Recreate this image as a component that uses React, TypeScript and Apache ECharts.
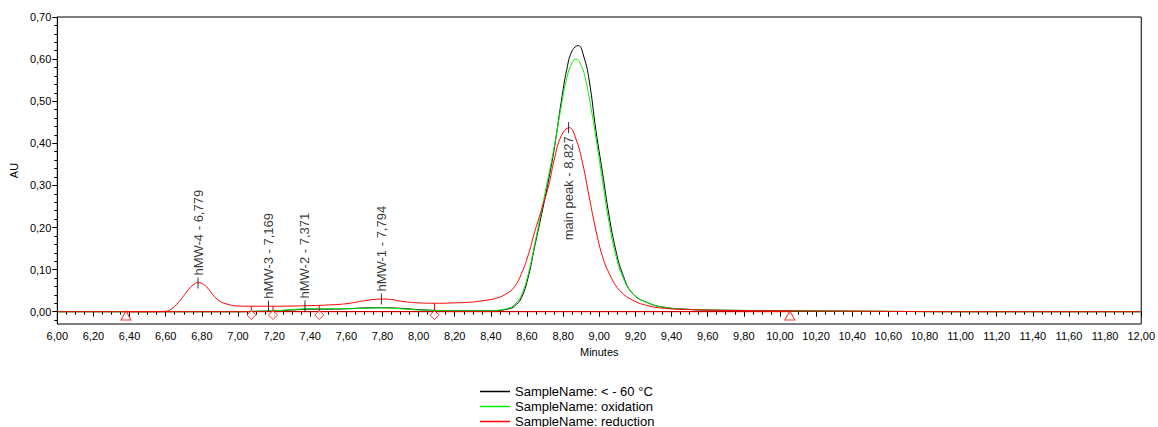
import React, { useEffect, useRef } from "react";
import * as echarts from "echarts";

// ---- data ----
const seriesNames = ["SampleName: < - 60 °C", "SampleName: oxidation", "SampleName: reduction"];
const seriesColors = ["#000000", "#00ee00", "#ff0000"];

const blackData: number[][] = [
  [6.0, 0], [7.0, 0], [7.1, 0.001], [7.2, 0.002], [7.3, 0.004], [7.4, 0.006], [7.5, 0.006], [7.6, 0.007],
  [7.7, 0.009], [7.8, 0.0095], [7.9, 0.008], [8.0, 0.005], [8.1, 0.003], [8.2, 0.002], [8.3, 0.002], [8.4, 0.002],
  [8.45, 0.003], [8.5, 0.007], [8.53, 0.013], [8.57, 0.034], [8.61, 0.088], [8.64, 0.15], [8.68, 0.23],
  [8.72, 0.315], [8.75, 0.385], [8.79, 0.5], [8.82, 0.575], [8.85, 0.62], [8.884, 0.632], [8.915, 0.605],
  [8.944, 0.55], [8.981, 0.432], [9.018, 0.33], [9.055, 0.226], [9.091, 0.147], [9.128, 0.091], [9.183, 0.044],
  [9.275, 0.02], [9.367, 0.01], [9.476, 0.006], [9.6, 0.004], [9.8, 0.003], [10.0, 0.002], [10.5, 0.001],
  [11.0, 0], [12.0, 0],
];

const greenData: number[][] = [
  [6.0, 0], [7.0, 0], [7.1, 0.001], [7.2, 0.002], [7.3, 0.005], [7.4, 0.007], [7.5, 0.007], [7.6, 0.007],
  [7.7, 0.008], [7.8, 0.009], [7.9, 0.007], [8.0, 0.004], [8.1, 0.003], [8.2, 0.002], [8.3, 0.002], [8.4, 0.002],
  [8.45, 0.004], [8.5, 0.009], [8.53, 0.016], [8.57, 0.04], [8.61, 0.095], [8.64, 0.155], [8.68, 0.24],
  [8.72, 0.325], [8.75, 0.39], [8.79, 0.49], [8.82, 0.555], [8.85, 0.592], [8.871, 0.6], [8.9, 0.585],
  [8.93, 0.54], [8.96, 0.47], [8.981, 0.415], [9.018, 0.31], [9.055, 0.21], [9.091, 0.135], [9.128, 0.085],
  [9.183, 0.044], [9.275, 0.02], [9.367, 0.01], [9.476, 0.006], [9.6, 0.004], [9.8, 0.003], [10.0, 0.002],
  [10.5, 0.001], [11.0, 0], [12.0, 0],
];

const redData: number[][] = [
  [6.0, 0], [6.5, 0], [6.6, 0.001], [6.64, 0.009], [6.68, 0.027], [6.72, 0.049], [6.75, 0.063], [6.78, 0.069],
  [6.81, 0.065], [6.84, 0.052], [6.87, 0.036], [6.9, 0.025], [6.94, 0.018], [7.0, 0.0135], [7.1, 0.013],
  [7.2, 0.013], [7.3, 0.0135], [7.4, 0.0145], [7.5, 0.016], [7.6, 0.019], [7.7, 0.026], [7.79, 0.03],
  [7.85, 0.029], [7.9, 0.025], [8.0, 0.021], [8.1, 0.02], [8.2, 0.021], [8.3, 0.023], [8.35, 0.026],
  [8.42, 0.031], [8.48, 0.041], [8.53, 0.059], [8.57, 0.091], [8.61, 0.139], [8.64, 0.186], [8.68, 0.242],
  [8.72, 0.3], [8.75, 0.36], [8.79, 0.418], [8.834, 0.437], [8.871, 0.41], [8.908, 0.352], [8.944, 0.273],
  [8.981, 0.194], [9.018, 0.131], [9.055, 0.091], [9.11, 0.052], [9.183, 0.028], [9.275, 0.0135],
  [9.367, 0.008], [9.5, 0.005], [9.7, 0.003], [10.0, 0.002], [10.5, 0.001], [11.0, 0], [12.0, 0],
];

const baselineData: number[][] = [[6.38, 0], [10.055, 0]];
const baselineEnds: number[][] = [[6.38, -0.009], [10.055, -0.009]];
const dropLines: number[][] = [[7.074, 0.0128], [7.194, 0.013], [7.45, 0.0155], [8.088, 0.02]];
const dropMarks: number[][] = [[7.074, -0.008], [7.194, -0.008], [7.45, -0.008], [8.088, -0.008]];

const peakLabels = ["hMW-4 - 6,779", "hMW-3 - 7,169", "hMW-2 - 7,371", "hMW-1 - 7,794", "main peak - 8,827"];
const peakTimes = [6.779, 7.169, 7.371, 7.794, 8.83];
const peakHeights = [0.068, 0.013, 0.0135, 0.03, 0.437];

const yLabelTicks = [0, 0.1, 0.2, 0.3, 0.4, 0.5, 0.6, 0.7];
const yMinorTicks = [
  -0.02, 0.02, 0.04, 0.06, 0.08, 0.12, 0.14, 0.16, 0.18, 0.22, 0.24, 0.26, 0.28, 0.32, 0.34, 0.36, 0.38,
  0.42, 0.44, 0.46, 0.48, 0.52, 0.54, 0.56, 0.58, 0.62, 0.64, 0.66, 0.68,
];

const FONT = "'Liberation Sans', Arial, sans-serif";
const fmt = (v: number) => v.toFixed(2).replace(".", ",");

export default function App() {
  const ref = useRef<HTMLDivElement>(null);

  useEffect(() => {
    if (!ref.current) return;
    const chart = echarts.init(ref.current, undefined, { renderer: "svg" });
    const lineSeries = [blackData, greenData, redData].map((d, i) => ({
      name: seriesNames[i],
      type: "line",
      data: d,
      symbol: "none",
      smooth: 0.45,
      lineStyle: { color: seriesColors[i], width: 1 },
      itemStyle: { color: seriesColors[i] },
      z: 2 + i,
    }));

    const option: any = {
      animation: false,
      textStyle: { fontFamily: FONT },
      grid: {
        left: 53, right: 14, top: 17, bottom: 103,
        show: true, borderColor: "#000", borderWidth: 1, backgroundColor: "transparent",
      },
      legend: {
        data: seriesNames,
        orient: "vertical",
        left: 480,
        top: 385,
        height: 80,
        padding: 0,
        icon: "rect",
        itemWidth: 30,
        itemHeight: 1.5,
        itemGap: 2,
        textStyle: { fontSize: 13, color: "#000", lineHeight: 13, fontFamily: FONT },
      },
      xAxis: {
        type: "value",
        min: 6,
        max: 12,
        interval: 0.2,
        name: "Minutes",
        nameLocation: "middle",
        nameGap: 22,
        nameTextStyle: { fontSize: 11, color: "#000" },
        axisLine: { show: true, lineStyle: { color: "#000", width: 1 } },
        axisTick: { show: true, length: 5, lineStyle: { color: "#000" } },
        minorTick: { show: true, splitNumber: 4, length: 3, lineStyle: { color: "#000" } },
        splitLine: { show: false },
        axisLabel: { fontSize: 11, color: "#000", margin: 6, formatter: fmt, showMaxLabel: true, showMinLabel: true },
      },
      yAxis: [
        {
          type: "value",
          min: -0.0292,
          max: 0.7,
          name: "AU",
          nameLocation: "middle",
          nameGap: 25,
          nameTextStyle: { fontSize: 11, color: "#000" },
          axisLine: { show: true, lineStyle: { color: "#000", width: 1 } },
          axisTick: { show: true, length: 5, customValues: yLabelTicks, lineStyle: { color: "#000" } },
          splitLine: { show: false },
          axisLabel: { fontSize: 11, color: "#000", margin: 6, customValues: yLabelTicks, formatter: fmt },
        },
        {
          type: "value",
          min: -0.0292,
          max: 0.7,
          position: "left",
          axisLine: { show: false },
          axisTick: { show: true, length: 3, customValues: yMinorTicks, lineStyle: { color: "#000" } },
          splitLine: { show: false },
          axisLabel: { show: false, customValues: yMinorTicks },
        },
      ],
      series: [
        ...lineSeries,
        {
          type: "line",
          data: baselineData,
          symbol: "none",
          lineStyle: { color: "#ff0000", width: 1 },
          z: 5,
          silent: true,
        },
        {
          type: "custom",
          data: dropLines,
          z: 6,
          silent: true,
          renderItem: (_p: any, api: any) => {
            const a = api.coord([api.value(0), api.value(1)]);
            const b = api.coord([api.value(0), 0]);
            return {
              type: "line",
              shape: { x1: a[0], y1: a[1], x2: b[0], y2: b[1] },
              style: { stroke: "#ff0000", lineWidth: 1 },
            };
          },
        },
        {
          type: "scatter",
          data: dropMarks,
          symbol: "diamond",
          symbolSize: [9, 9],
          itemStyle: { color: "#fff", borderColor: "#ff0000", borderWidth: 1 },
          z: 7,
          silent: true,
        },
        {
          type: "scatter",
          data: baselineEnds,
          symbol: "triangle",
          symbolSize: [10, 9],
          itemStyle: { color: "#fff", borderColor: "#ff0000", borderWidth: 1 },
          z: 7,
          silent: true,
        },
        {
          type: "scatter",
          z: 8,
          silent: true,
          symbol: "rect",
          symbolSize: [1, 11],
          itemStyle: { color: "#000" },
          data: peakTimes.map((t, i) => {
            const isMain = i === peakTimes.length - 1;
            return {
              value: [t, peakHeights[i]],
              label: {
                show: true,
                formatter: peakLabels[i],
                position: isMain ? "bottom" : "top",
                distance: isMain ? 3 : 2,
                rotate: 90,
                align: isMain ? "right" : "left",
                verticalAlign: "middle",
                fontSize: 13,
                color: "#000",
                fontFamily: FONT,
              },
            };
          }),
        },
      ],
    };
    chart.setOption(option);
    return () => chart.dispose();
  }, []);

  return (
    <div
      ref={ref}
      style={{ position: "absolute", left: 0, top: 0, width: 1158, height: 427, background: "#fff" }}
    />
  );
}
